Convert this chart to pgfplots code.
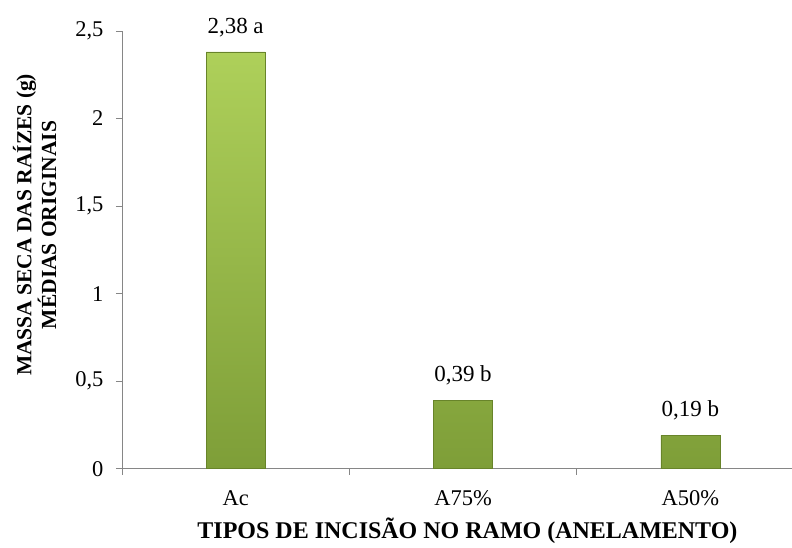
\documentclass[border=0pt]{standalone}
\usepackage{fontspec}
\setmainfont{Liberation Serif}
\usepackage{pgfplots}
\pgfplotsset{compat=1.18}
\usetikzlibrary{calc}
\definecolor{axgray}{RGB}{134,134,134}
\definecolor{bartop}{RGB}{174,208,90}
\definecolor{barbot}{RGB}{126,158,56}
\definecolor{baredge}{RGB}{104,132,42}
\begin{document}
\begin{tikzpicture}
\begin{axis}[
  scale only axis, width=670bp, height=438bp,
  xmin=-0.5, xmax=2.445, ymin=0, ymax=2.5,
  clip=false,
  axis x line*=bottom, axis y line*=left,
  axis line style={axgray, line width=0.8bp},
  tick align=outside,
  major tick length=6bp,
  tick style={axgray, line width=0.8bp},
  xtick={-0.5,0.5,1.5}, xticklabels={},
  extra x ticks={0,1,2}, extra x tick labels={Ac,A75\%,A50\%},
  extra x tick style={major tick length=0bp, tick style={draw=none}},
  ytick={0,0.5,1,1.5,2,2.5},
  yticklabels={0,{0,5},1,{1,5},2,{2,5}},
  /pgf/number format/assume math mode=true,
  ticklabel style={font=\fontsize{22.5bp}{26bp}\selectfont},
  xticklabel style={yshift=-18bp},
  yticklabel style={xshift=-9bp},
  xlabel={TIPOS DE INCISÃO NO RAMO (ANELAMENTO)},
  xlabel style={at={(rel axis cs:0.516,0)}, anchor=base, yshift=-70bp, font=\bfseries\fontsize{24bp}{28bp}\selectfont},
  ylabel={MASSA SECA DAS RAÍZES (g)\\MÉDIAS ORIGINAIS},
  ylabel style={at={($(rel axis cs:0,0.557)+(-62bp,0)$)}, anchor=south, align=center, font=\bfseries\fontsize{21.5bp}{25bp}\selectfont},
]
\addplot[ybar, bar width=0.26, draw=baredge, line width=0.6bp,
  top color=bartop, bottom color=barbot,
  nodes near coords, point meta=explicit symbolic,
  every node near coord/.append style={anchor=base, yshift=19bp, font=\fontsize{23bp}{27bp}\selectfont, text=black}]
  coordinates {(0,2.38) [2,38 a] (1,0.39) [0,39 b] (2,0.19) [0,19 b]};
\path (rel axis cs:0,0) ++(-122bp,-73bp) (rel axis cs:1,1) ++(0bp,31bp);
\end{axis}
\end{tikzpicture}
\end{document}
